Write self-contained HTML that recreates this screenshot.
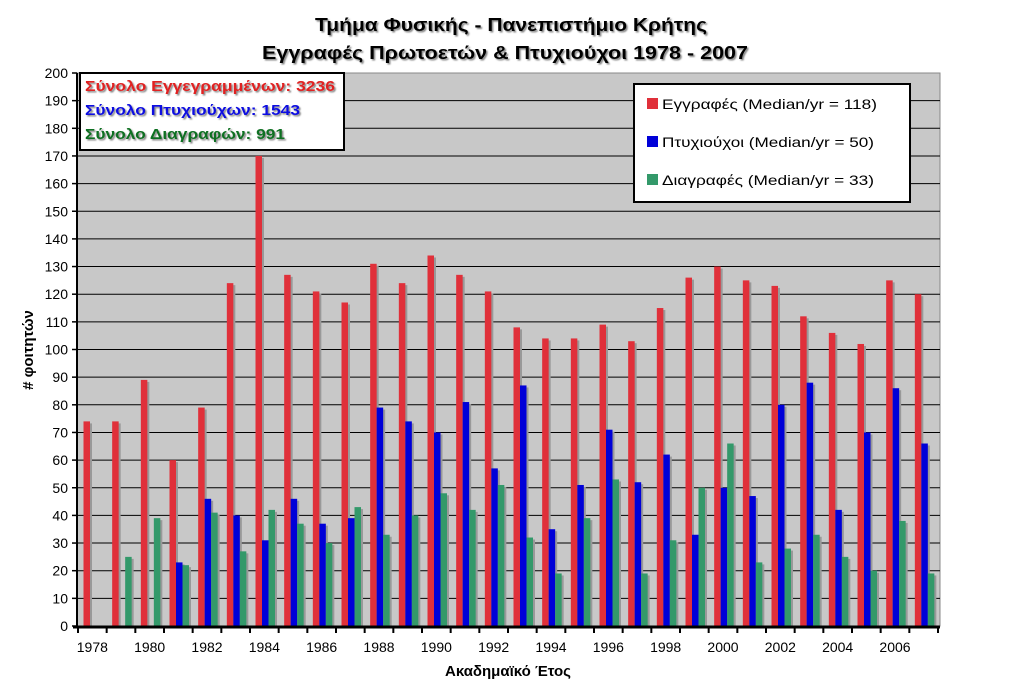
<!DOCTYPE html>
<html><head><meta charset="utf-8"><style>
html,body{margin:0;padding:0;background:#fff;}
svg{display:block;font-family:"Liberation Sans","DejaVu Sans",sans-serif;}
</style></head><body>
<svg id="chart" width="1013" height="695" viewBox="0 0 1013 695" xmlns="http://www.w3.org/2000/svg">
<defs><filter id="sh" x="-5%" y="-20%" width="110%" height="150%"><feDropShadow dx="1.5" dy="1.5" stdDeviation="0.8" flood-color="#555" flood-opacity="0.7"/></filter></defs>
<g font-weight="bold" font-size="18" text-anchor="middle" filter="url(#sh)">
<text x="511" y="31" textLength="392" lengthAdjust="spacingAndGlyphs">Τμήμα Φυσικής - Πανεπιστήμιο Κρήτης</text>
<text x="505" y="59" textLength="486" lengthAdjust="spacingAndGlyphs">Εγγραφές Πρωτοετών &amp; Πτυχιούχοι 1978 - 2007</text>
</g>
<rect x="77" y="73" width="863" height="553" fill="#c8c8c8" stroke="#888" stroke-width="1"/>
<g id="grid"></g>
<g id="bars"></g>
<g id="axes"></g>
<text transform="translate(33,350) rotate(-90)" text-anchor="middle" font-weight="bold" font-size="15">#  φοιτητών</text>
<text x="508" y="676" text-anchor="middle" font-weight="bold" font-size="15">Ακαδημαϊκό Έτος</text>
<g>
<rect x="80" y="73" width="264" height="77" fill="#fff" stroke="#000" stroke-width="2"/>
<g font-weight="bold" font-size="15" filter="url(#sh)">
<text x="85" y="91" fill="#e02020" textLength="250" lengthAdjust="spacingAndGlyphs">Σύνολο Εγγεγραμμένων: 3236</text>
<text x="85" y="115" fill="#1010e0" textLength="215" lengthAdjust="spacingAndGlyphs">Σύνολο Πτυχιούχων: 1543</text>
<text x="85" y="139" fill="#107020" textLength="200" lengthAdjust="spacingAndGlyphs">Σύνολο Διαγραφών: 991</text>
</g></g>
<g>
<rect x="634" y="84" width="276" height="118" fill="#fff" stroke="#000" stroke-width="2"/>
<g font-size="14">
<rect x="647" y="98" width="11" height="11" fill="#e0303a"/>
<text x="662" y="109" textLength="215" lengthAdjust="spacingAndGlyphs">Εγγραφές (Median/yr = 118)</text>
<rect x="647" y="136" width="11" height="11" fill="#0000d8"/>
<text x="662" y="147" textLength="212" lengthAdjust="spacingAndGlyphs">Πτυχιούχοι (Median/yr = 50)</text>
<rect x="647" y="174" width="11" height="11" fill="#33996a"/>
<text x="662" y="185" textLength="212" lengthAdjust="spacingAndGlyphs">Διαγραφές (Median/yr = 33)</text>
</g></g>
</svg>
<script>
const years = [1978,1979,1980,1981,1982,1983,1984,1985,1986,1987,1988,1989,1990,1991,1992,1993,1994,1995,1996,1997,1998,1999,2000,2001,2002,2003,2004,2005,2006,2007];
const enrolled = [74,74,89,60,79,124,170,127,121,117,131,124,134,127,121,108,104,104,109,103,115,126,130,125,123,112,106,102,125,120];
const graduates = [0,0,0,23,46,40,31,46,37,39,79,74,70,81,57,87,35,51,71,52,62,33,50,47,80,88,42,70,86,66];
const dropouts = [0,25,39,22,41,27,42,37,30,43,33,40,48,42,51,32,19,39,53,19,31,50,66,23,28,33,25,20,38,19];
const yTicks = [0,10,20,30,40,50,60,70,80,90,100,110,120,130,140,150,160,170,180,190,200];
const NS='http://www.w3.org/2000/svg';
const X0=78, GW=(938-78)/years.length, Y0=626, YT=73, YMAX=200;
const y = v => Y0 - v/YMAX*(Y0-YT);
const xg = i => X0 + i*GW;
function mk(tag, attrs, parent){const e=document.createElementNS(NS,tag);for(const k in attrs)e.setAttribute(k,attrs[k]);parent.appendChild(e);return e;}
const grid=document.getElementById('grid'), bars=document.getElementById('bars'), axes=document.getElementById('axes');
yTicks.forEach(t=>{
  if(t>0&&t<200){const l=mk('line',{x1:77,x2:940,y1:y(t),y2:y(t),stroke:'#000','stroke-width':1},grid);
  
  }
  const tk=mk('line',{x1:72,x2:77,y1:y(t),y2:y(t),stroke:'#000','stroke-width':1.5},axes);
  
  
  const tx=mk('text',{x:68,y:y(t)+5,'text-anchor':'end','font-size':14},axes);
  tx.textContent=t;
  
  
});
const series=[[enrolled,'#e0303a',5.5,'enrolled'],[graduates,'#0000d8',12,'graduates'],[dropouts,'#33996a',18.5,'dropouts']];
years.forEach((yr,i)=>{
  series.forEach(([arr,col,off,nm])=>{
    const v=arr[i]; if(v<=0) return;
    const bx=xg(i)+off;
    const s=mk('rect',{x:bx+2,y:y(v)+2,width:6.5,height:Y0-y(v)-2,fill:'#999'},bars);
    
    
    const r=mk('rect',{x:bx,y:y(v),width:6.5,height:Y0-y(v),fill:col},bars);
    
    
  });
});
for(let i=0;i<=years.length;i++){
  const tk=mk('line',{x1:xg(i),x2:xg(i),y1:626,y2:633,stroke:'#000','stroke-width':2},axes);
  
  
}
years.forEach((yr,i)=>{ if(yr%2) return;
  const t=mk('text',{x:xg(i)+GW/2,y:652,'text-anchor':'middle','font-size':14},axes);
  t.textContent=yr;
  
  
});
const xa=mk('line',{x1:73,x2:940,y1:627,y2:627,stroke:'#000','stroke-width':3},axes);


const ya=mk('line',{x1:77,x2:77,y1:73,y2:628,stroke:'#000','stroke-width':2},axes);


</script>
</body></html>
